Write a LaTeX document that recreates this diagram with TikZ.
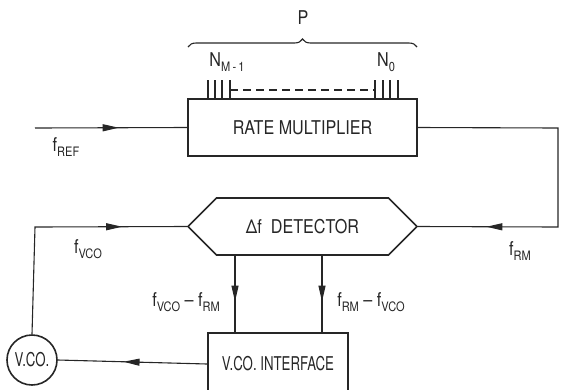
\documentclass[tikz,border=0pt]{standalone}
\usepackage{fontspec}
\usepackage{graphicx}
\setmainfont{TeX Gyre Heros}[FakeStretch=0.85]
\usetikzlibrary{arrows.meta,decorations.markings,decorations.pathreplacing,shapes.symbols}
\definecolor{Ink}{HTML}{262626}
\newcommand\sub[1]{\raisebox{-.5ex}{\fontsize{13}{13}\selectfont#1}}
\newcommand\narrow[1]{\scalebox{.82}[1]{#1}}

\begin{document}
\begin{tikzpicture}[x=1pt,y=-1pt,
  font=\fontsize{19}{22}\selectfont,text=Ink,
  box/.style={draw=Ink,line width=1.6pt,minimum width=229pt,minimum height=57pt,inner sep=0pt},
  wire/.style={draw=Ink,line width=1.1pt},
  midarrow/.style={wire,postaction={decorate},decoration={markings,
    mark=at position #1 with {\arrow{Triangle[length=16pt,width=7pt]}}}}]
\clip (0,0) rectangle (569,389);
\node[box](rm) at (302.5,127.5){RATE MULTIPLIER};
\node[box,signal,signal to=west and east,signal pointer angle=90](det) at (302.5,226.5){Δf\ \ DETECTOR};
\node[box,minimum width=140pt,minimum height=62pt](iface) at (278,364){\narrow{V.CO. INTERFACE}};
\node[draw=Ink,line width=1.6pt,circle,minimum size=50pt,inner sep=0pt](vco) at (32,360){\narrow{V.CO.}};
\coordinate (in) at (35,128);
% bus lines into the rate multiplier
\foreach \x in {208,215,222,230,375,383,390,398}
  \draw[wire] (rm.north -| \x,0) -- (\x,80);
\draw[wire,dashed,dash pattern=on 8pt off 5pt] (230,90) -- (375,90);
\draw[wire,decorate,decoration={brace,amplitude=8pt}] (188,47) -- (417,47);
\node(p) at (303,18){P};
\node(nm) at (227,62){N\sub{M\,-\,1}};
\node(n0) at (386,62){N\sub{0}};
% signal paths
\draw[midarrow=0.55] (in) -- (rm.west);
\draw[midarrow=0.82] (rm.east) -- (558,128) -- (558,227) -- (det.east);
\draw[midarrow=0.75] (vco.north) -- (35,227) -- (det.west);
\draw[midarrow=0.6] (det.south -| 235,0) -- (iface.north -| 235,0);
\draw[midarrow=0.6] (det.south -| 322,0) -- (iface.north -| 322,0);
\draw[midarrow=0.56] (iface.west) -- (vco.east);
\node(fref) at (66,147){f\sub{REF}};
\node(fvco) at (88,249){f\sub{VCO}};
\node(frm) at (520,251){f\sub{RM}};
\node(dlo) at (186,302){f\sub{VCO} -- f\sub{RM}};
\node(dhi) at (371,302){f\sub{RM} -- f\sub{VCO}};
\end{tikzpicture}
\end{document}
